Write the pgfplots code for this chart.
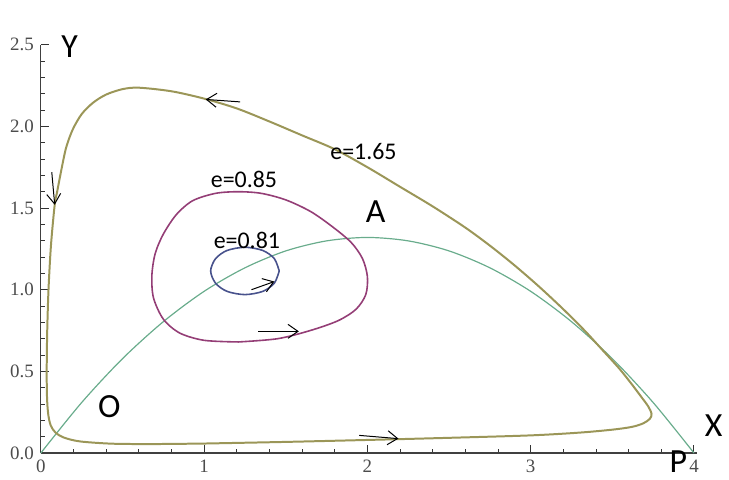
\documentclass[border=0pt]{standalone}
\usepackage{fontspec}
\setmainfont{Liberation Serif}
\newfontfamily\calfont{Carlito}
\usepackage{pgfplots}
\pgfplotsset{compat=1.18}
\usetikzlibrary{arrows.meta}
\definecolor{olive1}{RGB}{155,150,88}
\definecolor{green1}{RGB}{105,172,140}
\definecolor{purple1}{RGB}{148,62,118}
\definecolor{blue1}{RGB}{72,82,140}
\begin{document}
\begin{tikzpicture}
\begin{axis}[
  scale only axis, width=329.6pt, height=205pt,
  xmin=0, xmax=4.02, ymin=0, ymax=2.5,
  axis lines*=left,
  axis line style={black!75, line width=0.6pt},
  xtick={0,1,2,3,4}, ytick={0,0.5,1,1.5,2,2.5},
  minor x tick num=4, minor y tick num=4,
  major tick length=4pt, minor tick length=2.2pt,
  tick style={black!80, line width=0.5pt},
  tick align=inside,
  tick label style={font=\fontsize{9.5}{10}\selectfont, text=black!70},
  /pgf/number format/assume math mode=true,
  yticklabel style={/pgf/number format/.cd, fixed, fixed zerofill, precision=1},
  clip=false,
]
\path (axis cs:-0.25,-0.146) rectangle (axis cs:4.195,2.774);
% green parabola
\addplot[green1, line width=0.6pt, smooth] coordinates {
(0,0) (0.25,0.309) (0.5,0.5775) (0.75,0.804) (1,0.99) (1.25,1.134) (1.5,1.2375) (1.75,1.299) (2,1.32) (2.25,1.299) (2.5,1.2375) (2.75,1.134) (3,0.99) (3.25,0.804) (3.5,0.5775) (3.75,0.309) (4,0)
};
% big loop e=1.65
\addplot[olive1, line width=1pt, smooth] coordinates {
(1.0,0.058) (1.5,0.068) (2.0,0.080) (2.5,0.093) (3.0,0.108) (3.3,0.125) (3.5,0.143) (3.62,0.16) (3.69,0.182) (3.73,0.21) (3.74,0.24) (3.72,0.285) (3.68,0.34) (3.62,0.42) (3.54,0.52) (3.44,0.63) (3.33,0.75) (3.2,0.88) (3.05,1.02) (2.9,1.15) (2.75,1.27) (2.6,1.38) (2.4,1.51) (2.2,1.63) (2.0,1.75) (1.8,1.86) (1.6,1.945) (1.4,2.03) (1.2,2.11) (1.0,2.17) (0.8,2.215) (0.6,2.237) (0.5,2.228) (0.4,2.195) (0.32,2.145) (0.25,2.075) (0.195,1.98) (0.155,1.87) (0.125,1.73) (0.1,1.6) (0.085,1.52) (0.062,1.27) (0.047,1.0) (0.039,0.74) (0.036,0.5) (0.038,0.34) (0.045,0.24) (0.06,0.17) (0.09,0.125) (0.14,0.095) (0.24,0.071) (0.44,0.057) (0.7,0.055) (1.0,0.058)
};
% purple loop e=0.85
\addplot[purple1, line width=0.8pt, smooth] coordinates {
(1.21,0.68) (1.0,0.69) (0.85,0.735) (0.75,0.82) (0.69,0.95) (0.68,1.085) (0.70,1.22) (0.75,1.34) (0.83,1.46) (0.93,1.545) (1.07,1.59) (1.21,1.60) (1.35,1.59) (1.5,1.55) (1.65,1.48) (1.78,1.39) (1.9,1.29) (1.97,1.19) (2.0,1.08) (1.99,0.97) (1.93,0.88) (1.82,0.81) (1.65,0.75) (1.45,0.70) (1.21,0.68)
};
% blue loop e=0.81
\addplot[blue1, line width=0.8pt, smooth] coordinates {
(1.46,1.115) (1.43,1.19) (1.36,1.24) (1.25,1.26) (1.14,1.24) (1.07,1.19) (1.04,1.115) (1.07,1.04) (1.14,0.99) (1.25,0.97) (1.36,0.99) (1.43,1.04) (1.46,1.115)
};
% arrows
\addplot[black, line width=0.5pt, -{Straight Barb[length=5pt,width=7pt]}] coordinates {(1.22,2.15) (1.01,2.165)};
\addplot[black, line width=0.5pt, -{Straight Barb[length=5pt,width=7pt]}] coordinates {(0.067,1.72) (0.085,1.52)};
\addplot[black, line width=0.5pt, -{Straight Barb[length=5pt,width=7pt]}] coordinates {(1.95,0.108) (2.19,0.088)};
\addplot[black, line width=0.5pt, -{Straight Barb[length=5pt,width=7pt]}] coordinates {(1.33,0.745) (1.58,0.745)};
\addplot[black, line width=0.5pt, -{Straight Barb[length=5pt,width=7pt]}] coordinates {(1.29,1.0) (1.43,1.05)};
% labels
\node[font=\calfont\fontsize{17}{20}\selectfont] at (axis cs:0.177,2.49) {Y};
\node[font=\calfont\fontsize{17}{20}\selectfont] at (axis cs:2.05,1.475) {A};
\node[font=\calfont\fontsize{17}{20}\selectfont] at (axis cs:0.42,0.287) {O};
\node[font=\calfont\fontsize{17}{20}\selectfont] at (axis cs:4.12,0.165) {X};
\node[font=\calfont\fontsize{17}{20}\selectfont] at (axis cs:3.905,-0.055) {P};
\node[font=\calfont\fontsize{12}{14}\selectfont] at (axis cs:1.976,1.848) {e=1.65};
\node[font=\calfont\fontsize{12}{14}\selectfont] at (axis cs:1.244,1.677) {e=0.85};
\node[font=\calfont\fontsize{12}{14}\selectfont] at (axis cs:1.262,1.299) {e=0.81};
\end{axis}
\end{tikzpicture}
\end{document}
